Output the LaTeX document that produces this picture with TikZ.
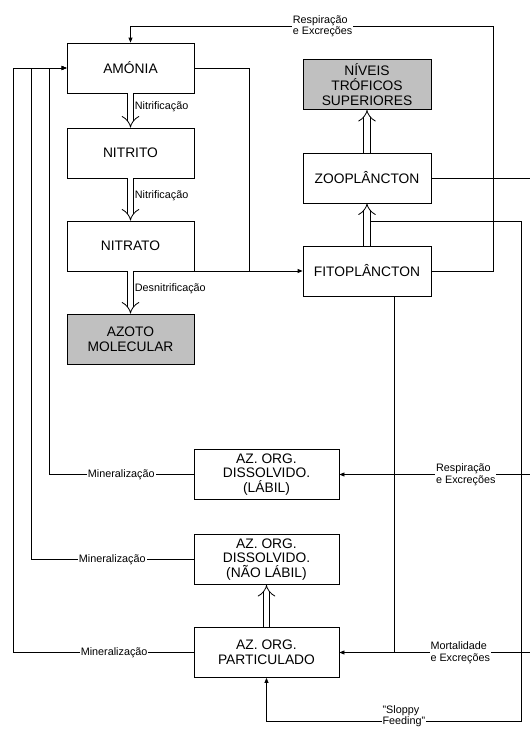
\documentclass[tikz,border=0pt]{standalone}
\usepackage{fontspec}
\setmainfont{Liberation Sans}
\usetikzlibrary{calc,positioning,arrows.meta}
\definecolor{boxgray}{RGB}{192,192,192}

\begin{document}
\begin{tikzpicture}[x=1pt,y=-1pt,line width=0.8pt,
    box/.style={draw,inner sep=0pt,minimum width=127pt,minimum height=50pt,
        align=center,font=\fontsize{13.8}{14.8}\selectfont},
    lbl/.style={fill=white,inner sep=1pt,align=left,font=\fontsize{10.8}{11.5}\selectfont},
    flow/.style={-{Triangle[length=5pt,width=4pt]}},
    dbl/.style={double,double distance=5.5pt,-{Implies}}]
    \useasboundingbox (0,0) rectangle (530,729);

    % boxes
    \node[box] (amonia) at (130.5,68) {AMÓNIA};
    \node[box] (nitrito) at (130.5,153) {NITRITO};
    \node[box] (nitrato) at (130.5,246) {NITRATO};
    \node[box,fill=boxgray] (azoto) at (130.5,339) {AZOTO\\MOLECULAR};
    \node[box,minimum width=128pt,fill=boxgray] (niveis) at (367,84.5) {NÍVEIS\\TRÓFICOS\\SUPERIORES};
    \node[box,minimum width=128pt] (zoo) at (367,178) {ZOOPLÂNCTON};
    \node[box,minimum width=128pt] (fito) at (367,271) {FITOPLÂNCTON};
    \node[box,minimum width=145pt] (labil) at (266.5,474.5) {AZ. ORG.\\DISSOLVIDO.\\(LÁBIL)};
    \node[box,minimum width=145pt] (naolabil) at (266.5,559.5) {AZ. ORG.\\DISSOLVIDO.\\(NÃO LÁBIL)};
    \node[box,minimum width=145pt] (part) at (266.5,652.5) {AZ. ORG.\\PARTICULADO};

    \coordinate (rtop) at (493,26);
    \coordinate (jn) at (249,271);
    \coordinate (fdown) at (394,0);
    \coordinate (redge) at (532,0);
    \coordinate (sfa) at (370,221);
    \coordinate (sfb) at (521,721);

    % nitrogen chain
    \foreach \a/\b/\t in {amonia/nitrito/Nitrificação,nitrito/nitrato/Nitrificação,nitrato/azoto/Desnitrificação}{
        \draw[dbl] (\a.south) -- node[lbl,right,pos=0.4,xshift=3pt,fill=none]{\t} (\b.north);
    }
    \draw[dbl] (fito.north) -- (zoo.south);
    \draw[dbl] (zoo.north) -- (niveis.south);
    \draw[dbl] (part.north) -- (naolabil.south);

    % uptake and excretion
    \draw (amonia.east) -| (jn);
    \draw[flow] (fito.west -| nitrato.east) -- (fito.west);
    \draw[flow] (fito.east) -| (rtop) -- node[lbl,pos=0.47]{Respiração\\e Excreções} (amonia.north |- rtop) -- (amonia.north);

    % mineralization
    \foreach \n/\x/\p in {labil/49/0.5,naolabil/31/0.5,part/13/0.44}{
        \draw[flow] (\n.west) -- node[lbl,pos=\p]{Mineralização} (\x,0 |- \n.west) |- (amonia.west);
    }

    % organic nitrogen sources
    \draw[flow] (fito.south -| fdown) |- (part.east);
    \draw[flow] (labil.east -| fdown) -- (labil.east);
    \draw (zoo.east) -| (redge |- part.east) -- node[lbl,pos=0.52]{Mortalidade\\e Excreções} (part.east -| fdown);
    \draw (redge |- labil.east) -- node[lbl,pos=0.48]{Respiração\\e Excreções} (labil.east -| fdown);
    \draw[flow] (sfa) -| (sfb) -| node[lbl,pos=0.23,yshift=5pt]{"Sloppy\\Feeding"} (part.south);
\end{tikzpicture}
\end{document}
